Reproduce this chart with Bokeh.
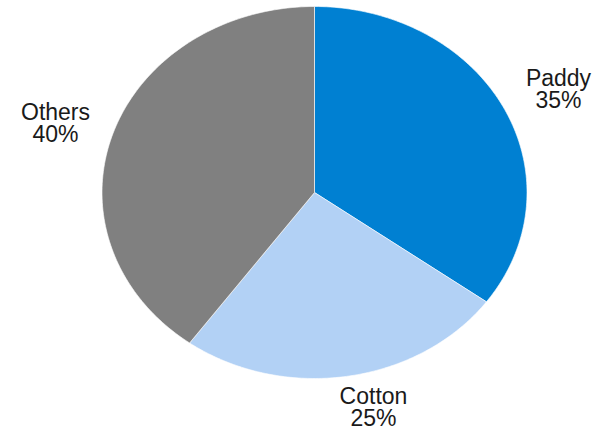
import numpy as np
from bokeh.plotting import figure
from bokeh.models import ColumnDataSource
from bokeh.core.properties import value
from bokeh.embed import file_html
from bokeh.resources import INLINE

categories = ["Paddy", "Cotton", "Others"]
shares = [35, 25, 40]
colors = ["#0080D2", "#B2D1F5", "#808080"]

W, H = 604, 430
cx, cy, rx, ry = 314.0, 192.0, 212.5, 186.0

p = figure(width=W, height=H, output_backend="svg", toolbar_location=None,
           x_range=(-cx / rx, (W - cx) / rx), y_range=(-(H - cy) / ry, cy / ry),
           min_border=0)
p.axis.visible = False
p.grid.visible = False
p.outline_line_color = None
p.background_fill_color = "white"
p.border_fill_color = "white"

# wedges clockwise from 12 o'clock, unit circle in data space (ellipse on screen)
total = float(sum(shares))
xs, ys = [], []
start = 0.0
for s in shares:
    end = start + s / total
    t = np.linspace(start, end, 120)
    ang = np.pi / 2 - 2 * np.pi * t
    xs.append([0.0] + list(np.cos(ang)) + [0.0])
    ys.append([0.0] + list(np.sin(ang)) + [0.0])
    start = end

src = ColumnDataSource(dict(xs=xs, ys=ys, color=colors, name=categories))
p.patches("xs", "ys", source=src, fill_color="color", line_color="white", line_width=0.6)

# labels (pixel positions converted to data space)
label_px = {"Paddy": (558, 77, 99), "Cotton": (373, 395, 417), "Others": (55, 111, 133)}
lx, l1, l2, t1, t2 = [], [], [], [], []
for c, s in zip(categories, shares):
    px, py1, py2 = label_px[c]
    lx.append((px - cx) / rx)
    l1.append((cy - py1) / ry)
    l2.append((cy - py2) / ry)
    t1.append(c)
    t2.append(f"{s}%")

for yy, tt in ((l1, t1), (l2, t2)):
    p.text(x=lx, y=yy, text=tt, text_align="center", text_baseline="middle",
           text_font=value("Liberation Sans"), text_font_size="23px", text_color="#1a1a1a")

open("out.html", "w").write(file_html(p, INLINE))
